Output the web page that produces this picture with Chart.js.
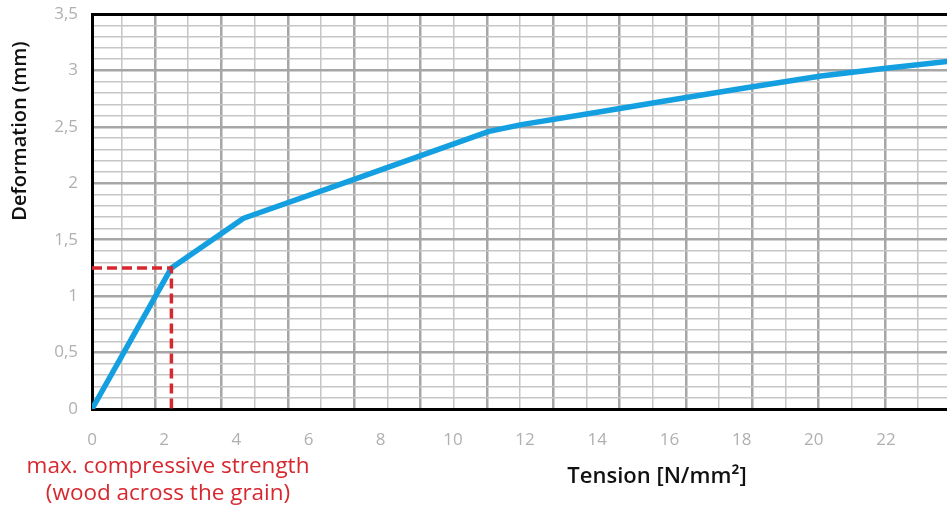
<!DOCTYPE html>
<html lang="en">
<head>
  <meta charset="UTF-8">
  <title>Deformation / Tension</title>
  <script src="https://cdn.jsdelivr.net/npm/chart.js"></script>
</head>
<style>
  body { margin: 0; background: #fff; }
  .chart-container {
    width: 947px;
    height: 507px;
  }
</style>
<body>
  <div class="chart-container">
    <canvas id="chartCanvas"></canvas>
  </div>

  <script>
    // curve (tension N/mm2 -> deformation mm)
    const tension     = [0, 2.2, 4.2, 6.95, 11.0, 11.9, 14.0, 16.0, 18.0, 20.2, 22.0, 23.7];
    const deformation = [0, 1.25, 1.69, 2.0, 2.46, 2.52, 2.63, 2.735, 2.84, 2.95, 3.02, 3.08];

    // max. compressive strength marker
    const maxStrengthX = 2.2;
    const maxStrengthY = 1.25;

    const xTickValues = [0, 2, 4, 6, 8, 10, 12, 14, 16, 18, 20, 22];
    const gridColumns = [1, 2, 3, 4, 5, 6, 7, 8, 9, 10, 11, 12, 13, 14, 15, 16, 17, 18, 19, 20, 21, 22, 23, 24, 25];

    const thickGrid = '#a6a6a6';
    const thinGrid = '#c6c6c6';

    const isHalf = v => Math.abs(v * 2 - Math.round(v * 2)) < 1e-6;

    const textLabels = {
      id: 'textLabels',
      afterDraw(chart) {
        const c = chart.ctx;
        c.save();
        c.textAlign = 'center';
        c.textBaseline = 'middle';

        c.fillStyle = '#111';
        c.font = '600 22px "Open Sans"';
        c.fillText('Tension [N/mm²]', 657, 477);

        c.save();
        c.translate(20, 131);
        c.rotate(-Math.PI / 2);
        c.font = '600 20px "Open Sans"';
        c.fillText('Deformation (mm)', 0, 0);
        c.restore();

        c.fillStyle = '#d7282f';
        c.font = '22.5px "Open Sans"';
        c.fillText('max. compressive strength', 168, 467);
        c.fillText('(wood across the grain)', 168, 494);
        c.restore();
      }
    };

    const ctx = document.getElementById('chartCanvas').getContext('2d');
    const chart = new Chart(ctx, {
      type: 'line',
      data: {
        datasets: [{
          label: 'max strength',
          data: [
            { x: 0, y: maxStrengthY },
            { x: maxStrengthX, y: maxStrengthY },
            { x: maxStrengthX, y: 0 }
          ],
          borderColor: '#d7282f',
          borderWidth: 3.5,
          borderDash: [10, 5],
          pointRadius: 0,
          fill: false
        }, {
          label: 'Deformation',
          data: tension.map((t, i) => ({ x: t, y: deformation[i] })),
          borderColor: '#149fe0',
          borderWidth: 5.5,
          borderJoinStyle: 'round',
          borderCapStyle: 'round',
          pointRadius: 0,
          tension: 0,
          fill: false
        }]
      },
      options: {
        responsive: true,
        maintainAspectRatio: false,
        animation: false,
        layout: { padding: 0 },
        plugins: {
          legend: { display: false },
          tooltip: { enabled: false }
        },
        scales: {
          x: {
            type: 'linear',
            position: 'bottom',
            min: 0,
            max: 23.69,
            afterBuildTicks: s => { s.ticks = xTickValues.map(v => ({ value: v })); },
            afterFit: s => { s.height = 98; s.paddingLeft = 0; s.paddingRight = 0; },
            grid: { display: false },
            border: { color: '#000', width: 3 },
            ticks: {
              color: '#b0b0b0',
              font: { family: 'Open Sans', size: 17 },
              padding: 13,
              maxRotation: 0,
              autoSkip: false
            }
          },
          xGrid: {
            type: 'linear',
            position: 'top',
            min: 0.1,
            max: 25.87,
            afterBuildTicks: s => { s.ticks = gridColumns.map(v => ({ value: v })); },
            afterFit: s => { s.height = 14; s.paddingLeft = 0; s.paddingRight = 0; },
            ticks: { display: false },
            grid: {
              drawTicks: false,
              color: c => (c.tick && c.tick.value % 2 === 0) ? thickGrid : thinGrid,
              lineWidth: c => (c.tick && c.tick.value % 2 === 0) ? 2.5 : 1.5
            },
            border: { color: '#000', width: 3 }
          },
          y: {
            type: 'linear',
            position: 'left',
            min: 0,
            max: 3.5,
            afterFit: s => { s.width = 92; s.paddingTop = 0; s.paddingBottom = 0; },
            grid: {
              drawTicks: false,
              color: c => (c.tick && isHalf(c.tick.value)) ? thickGrid : thinGrid,
              lineWidth: c => (c.tick && isHalf(c.tick.value)) ? 2.5 : 1.5
            },
            border: { color: '#000', width: 3 },
            ticks: {
              stepSize: 0.1,
              autoSkip: false,
              color: '#b0b0b0',
              font: { family: 'Open Sans', size: 17 },
              padding: 14,
              callback: v => isHalf(v) ? String(Math.round(v * 10) / 10).replace('.', ',') : ''
            }
          }
        }
      },
      plugins: [textLabels]
    });
  </script>
</body>
</html>
